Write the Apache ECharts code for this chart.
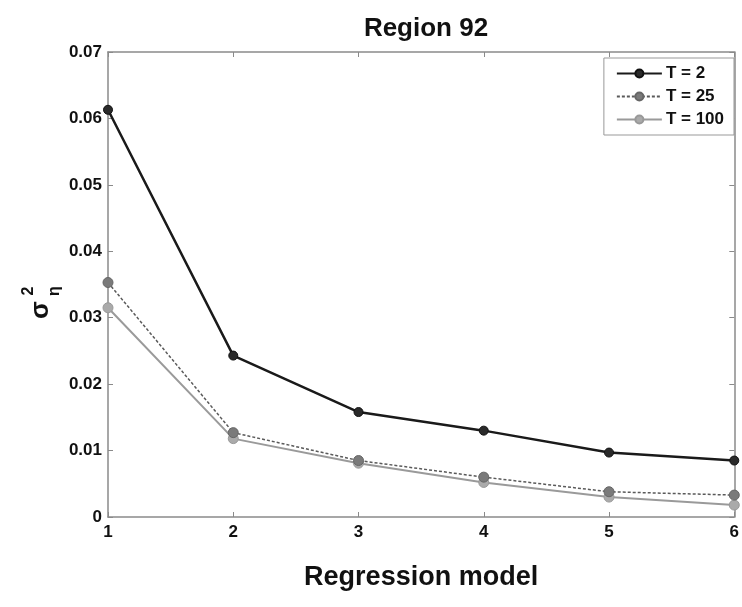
<!DOCTYPE html>
<html>
<head>
<meta charset="utf-8">
<script src="https://cdn.jsdelivr.net/npm/echarts@6/dist/echarts.min.js"></script>
<style>
  html, body { margin: 0; padding: 0; background: #fff; }
  #chart { width: 742px; height: 607px; }
</style>
</head>
<body>
<div id="chart"></div>
<script>
// Regression model index on the x axis
const models = [1, 2, 3, 4, 5, 6];
// Variance estimates per horizon T
const seriesT2 = [0.0613, 0.0243, 0.0158, 0.0130, 0.0097, 0.0085];
const seriesT25 = [0.0353, 0.0127, 0.0085, 0.0060, 0.0038, 0.0033];
const seriesT100 = [0.0315, 0.0118, 0.0081, 0.0052, 0.0030, 0.0018];
const seriesNames = ['T = 2', 'T = 25', 'T = 100'];
const yTicks = [0, 0.01, 0.02, 0.03, 0.04, 0.05, 0.06, 0.07];

const FONT = '"Liberation Sans", Arial, sans-serif';
const chart = echarts.init(document.getElementById('chart'));

function pairs(vals) {
  return models.map((m, i) => [m, vals[i]]);
}

const axisGray = '#8a8a8a';

chart.setOption({
  animation: false,
  backgroundColor: '#ffffff',
  title: {
    text: 'Region 92',
    left: 421,
    textAlign: 'center',
    top: 11,
    textStyle: { fontFamily: FONT, fontWeight: 'bold', fontSize: 26, color: '#111' }
  },
  grid: { left: 108, right: 7, top: 52, bottom: 90, show: false },
  legend: {
    data: seriesNames,
    orient: 'vertical',
    right: 8,
    top: 58,
    itemWidth: 45,
    itemHeight: 10,
    itemGap: 6,
    padding: [7, 10, 7, 12],
    borderColor: '#999',
    borderWidth: 1,
    backgroundColor: '#fff',
    textStyle: { fontFamily: FONT, fontWeight: 'bold', fontSize: 17, color: '#111', padding: [0, 0, 0, -1] }
  },
  xAxis: [{
    type: 'value',
    min: 1, max: 6, interval: 1,
    name: 'Regression model',
    nameLocation: 'middle',
    nameGap: 47,
    nameTextStyle: { fontFamily: FONT, fontWeight: 'bold', fontSize: 27, color: '#111' },
    axisLine: { show: true, onZero: false, lineStyle: { color: axisGray, width: 1.5 } },
    axisTick: { show: true, inside: true, length: 5, lineStyle: { color: axisGray } },
    axisLabel: { fontFamily: FONT, fontWeight: 'bold', fontSize: 17, color: '#111', margin: 7 },
    splitLine: { show: false }
  }, {
    type: 'value', position: 'top',
    min: 1, max: 6, interval: 1,
    axisLine: { show: true, onZero: false, lineStyle: { color: axisGray, width: 1.5 } },
    axisTick: { show: true, inside: true, length: 5, lineStyle: { color: axisGray } },
    axisLabel: { show: false },
    splitLine: { show: false }
  }],
  yAxis: [{
    type: 'value',
    min: 0, max: 0.07, interval: 0.01,
    axisLine: { show: true, onZero: false, lineStyle: { color: axisGray, width: 1.5 } },
    axisTick: { show: true, inside: true, length: 5, lineStyle: { color: axisGray } },
    axisLabel: {
      fontFamily: FONT, fontWeight: 'bold', fontSize: 17, color: '#111', margin: 6,
      formatter: v => {
        const t = yTicks.find(k => Math.abs(k - v) < 1e-9);
        return t === 0 ? '0' : (t !== undefined ? t.toFixed(2) : '');
      }
    },
    splitLine: { show: false }
  }, {
    type: 'value', position: 'right',
    min: 0, max: 0.07, interval: 0.01,
    axisLine: { show: true, onZero: false, lineStyle: { color: axisGray, width: 1.5 } },
    axisTick: { show: true, inside: true, length: 5, lineStyle: { color: axisGray } },
    axisLabel: { show: false },
    splitLine: { show: false }
  }],
  graphic: [
    {
      type: 'text', rotation: Math.PI / 2, x: 41, y: 310,
      style: { text: 'σ', fontFamily: FONT, fontWeight: 'bold', fontSize: 26, fill: '#111', textAlign: 'center', textVerticalAlign: 'middle' }
    },
    {
      type: 'text', rotation: Math.PI / 2, x: 29, y: 291,
      style: { text: '2', fontFamily: FONT, fontWeight: 'bold', fontSize: 16, fill: '#111', textAlign: 'center', textVerticalAlign: 'middle' }
    },
    {
      type: 'text', rotation: Math.PI / 2, x: 55, y: 291,
      style: { text: 'η', fontFamily: FONT, fontWeight: 'bold', fontSize: 16, fill: '#111', textAlign: 'center', textVerticalAlign: 'middle' }
    }
  ],
  series: [
    {
      name: seriesNames[0], type: 'line', data: pairs(seriesT2),
      symbol: 'circle', symbolSize: 9,
      lineStyle: { color: '#1a1a1a', width: 2.5 },
      itemStyle: { color: '#2a2a2a', borderColor: '#111', borderWidth: 1 },
      z: 5
    },
    {
      name: seriesNames[1], type: 'line', data: pairs(seriesT25),
      symbol: 'circle', symbolSize: 10,
      lineStyle: { color: '#5a5a5a', width: 1.5, type: [3, 2] },
      itemStyle: { color: '#7a7a7a', borderColor: '#666', borderWidth: 1 },
      z: 4
    },
    {
      name: seriesNames[2], type: 'line', data: pairs(seriesT100),
      symbol: 'circle', symbolSize: 10,
      lineStyle: { color: '#9a9a9a', width: 2 },
      itemStyle: { color: '#aaaaaa', borderColor: '#999', borderWidth: 1 },
      z: 3
    }
  ]
});
</script>
</body>
</html>
